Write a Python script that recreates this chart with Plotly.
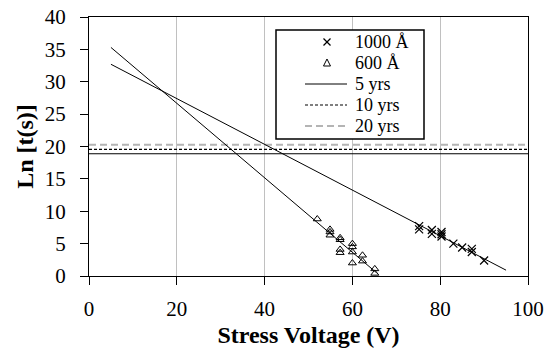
import plotly.graph_objects as go

# 1000 Å data
x1000 = [75.2, 75.2, 78.1, 78.1, 80.3, 80.3, 80.3, 83.0, 85.0, 87.2, 87.2, 90.0]
y1000 = [7.7, 7.2, 7.1, 6.5, 6.8, 6.45, 6.1, 5.0, 4.4, 4.2, 3.7, 2.4]

# 600 Å data
x600 = [52.0, 54.9, 54.9, 54.9, 57.2, 57.2, 57.2, 57.2, 60.0, 60.0, 60.0, 60.0, 62.3, 62.3, 65.1, 65.1]
y600 = [8.8, 7.2, 6.8, 6.3, 5.9, 5.6, 4.1, 3.6, 5.0, 4.5, 3.7, 2.0, 3.2, 2.3, 1.1, 0.4]

# fit lines
fit1000_x = [5, 95]
fit1000_y = [32.7, 0.9]
fit600_x = [5, 65.5]
fit600_y = [35.3, 0.5]

# lifetime lines (ln seconds)
life_x = [0, 100]
life_5 = 18.88
life_10 = 19.57
life_20 = 20.27

legend_labels = ["1000 Å", "600 Å", "5 yrs", "10 yrs", "20 yrs"]

FONT = "serif"
GRAY = "#b4b4b4"

# plot-area geometry in pixels (for the hand-drawn legend)
W, H = 550, 348
ML, MR, MT, MB = 89, 22, 17, 72
PW, PH = W - ML - MR, H - MT - MB


def px(x):
    return (x - ML) / PW


def py(y):
    return (H - MB - y) / PH


fig = go.Figure()
fig.add_trace(go.Scatter(x=x1000, y=y1000, mode="markers", name=legend_labels[0], showlegend=False,
                         marker=dict(symbol="x-thin-open", size=8, color="black",
                                     line=dict(color="black", width=1.2))))
fig.add_trace(go.Scatter(x=x600, y=y600, mode="markers", name=legend_labels[1], showlegend=False,
                         marker=dict(symbol="triangle-up-open", size=7, color="black",
                                     line=dict(color="black", width=1))))
fig.add_trace(go.Scatter(x=life_x, y=[life_5, life_5], mode="lines", name=legend_labels[2],
                         showlegend=False, line=dict(color="black", width=1)))
fig.add_trace(go.Scatter(x=life_x, y=[life_10, life_10], mode="lines", name=legend_labels[3],
                         showlegend=False, line=dict(color="black", width=1.2, dash="3px,2px")))
fig.add_trace(go.Scatter(x=life_x, y=[life_20, life_20], mode="lines", name=legend_labels[4],
                         showlegend=False, line=dict(color=GRAY, width=2, dash="7px,4px")))
fig.add_trace(go.Scatter(x=fit1000_x, y=fit1000_y, mode="lines", showlegend=False,
                         line=dict(color="black", width=1)))
fig.add_trace(go.Scatter(x=fit600_x, y=fit600_y, mode="lines", showlegend=False,
                         line=dict(color="black", width=1)))

# ---- legend box drawn by hand ----
box_l, box_r, box_t, box_b = 276, 424, 30, 139
row_y = [42, 63, 84, 105, 126]
samp_l, samp_r, samp_c, text_l = 305, 347, 327, 353

shapes = [dict(type="rect", xref="paper", yref="paper",
               x0=px(box_l), x1=px(box_r), y0=py(box_b), y1=py(box_t),
               fillcolor="white", line=dict(color="black", width=1.5), layer="above")]
# × sample
r = 3.5
cy = row_y[0]
shapes.append(dict(type="line", xref="paper", yref="paper", x0=px(samp_c - r), x1=px(samp_c + r),
                   y0=py(cy - r), y1=py(cy + r), line=dict(color="black", width=1.2), layer="above"))
shapes.append(dict(type="line", xref="paper", yref="paper", x0=px(samp_c - r), x1=px(samp_c + r),
                   y0=py(cy + r), y1=py(cy - r), line=dict(color="black", width=1.2), layer="above"))
# △ sample
cy = row_y[1]
tri = "M {:.5f} {:.5f} L {:.5f} {:.5f} L {:.5f} {:.5f} Z".format(
    px(samp_c - 3.5), py(cy + 3), px(samp_c + 3.5), py(cy + 3), px(samp_c), py(cy - 4))
shapes.append(dict(type="path", xref="paper", yref="paper", path=tri,
                   line=dict(color="black", width=1), layer="above"))
# line samples
line_styles = [dict(color="black", width=1),
               dict(color="black", width=1.2, dash="3px,2px"),
               dict(color=GRAY, width=2, dash="7px,4px")]
for k, st in enumerate(line_styles):
    cy = row_y[2 + k]
    shapes.append(dict(type="line", xref="paper", yref="paper", x0=px(samp_l), x1=px(samp_r),
                       y0=py(cy), y1=py(cy), line=st, layer="above"))

annotations = []
for k, lab in enumerate(legend_labels):
    annotations.append(dict(x=px(text_l), y=py(row_y[k]), xref="paper", yref="paper",
                            xanchor="left", yanchor="middle", showarrow=False, text=lab,
                            font=dict(family=FONT, size=18, color="black")))

fig.update_layout(
    template="none",
    width=W, height=H,
    margin=dict(l=ML, r=MR, t=MT, b=MB, autoexpand=False),
    plot_bgcolor="white", paper_bgcolor="white",
    font=dict(family=FONT, color="black", size=20),
    showlegend=False,
    shapes=shapes, annotations=annotations,
    xaxis=dict(range=[0, 100], tickvals=[0, 20, 40, 60, 80, 100], automargin=False,
               showgrid=True, gridcolor="#c0c0c0", gridwidth=1,
               zeroline=False, showline=True, linecolor="black", linewidth=1.2, mirror=True,
               ticks="outside", ticklen=8, tickcolor="black", tickwidth=1, ticklabelstandoff=6,
               tickfont=dict(family=FONT, size=21, color="black"),
               title=dict(text="<b>Stress Voltage (V)</b>", standoff=6,
                          font=dict(family=FONT, size=24, color="black"))),
    yaxis=dict(range=[0, 40], tickvals=[0, 5, 10, 15, 20, 25, 30, 35, 40], automargin=False,
               showgrid=False, zeroline=False, showline=True, linecolor="black", mirror=True,
               linewidth=1.2, ticks="outside", ticklen=8, tickcolor="black", tickwidth=1,
               ticklabelstandoff=10,
               tickfont=dict(family=FONT, size=21, color="black"),
               title=dict(text="<b>Ln [t(s)]</b>", standoff=4,
                          font=dict(family=FONT, size=24, color="black"))),
)

fig.write_html("out.html")
